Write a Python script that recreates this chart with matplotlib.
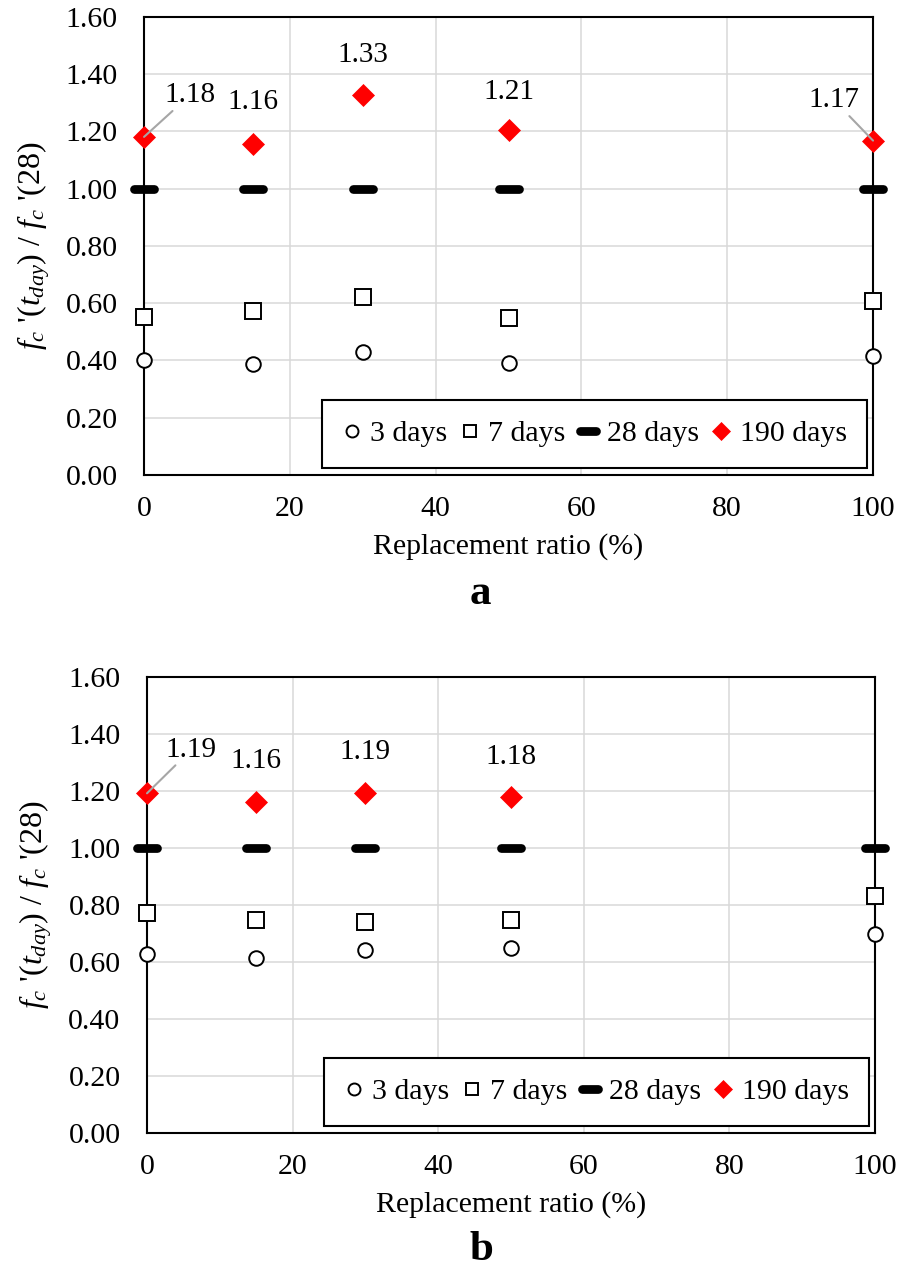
import matplotlib
matplotlib.use('Agg')
import matplotlib.pyplot as plt
from matplotlib.markers import MarkerStyle

plt.rcParams['font.family'] = ['Liberation Serif', 'DejaVu Serif']
plt.rcParams['mathtext.fontset'] = 'custom'
plt.rcParams['mathtext.rm'] = 'Liberation Serif'
plt.rcParams['mathtext.it'] = 'Liberation Serif:italic'

# ---------------- data ----------------
ratio = [0, 15, 30, 50, 100]
a_3d = [0.400, 0.388, 0.430, 0.390, 0.416]
a_7d = [0.553, 0.573, 0.622, 0.547, 0.608]
a_28d = [1.00, 1.00, 1.00, 1.00, 1.00]
a_190d = [1.181, 1.157, 1.327, 1.205, 1.168]

b_3d = [0.628, 0.614, 0.643, 0.649, 0.698]
b_7d = [0.772, 0.747, 0.741, 0.747, 0.830]
b_28d = [1.00, 1.00, 1.00, 1.00, 1.00]
ratio_b190 = [0, 15, 30, 50]
b_190d = [1.192, 1.163, 1.194, 1.178]

series_names = ['3 days', '7 days', '28 days', '190 days']
x_ticks = [0, 20, 40, 60, 80, 100]
y_ticks = [0.0, 0.2, 0.4, 0.6, 0.8, 1.0, 1.2, 1.4, 1.6]

# label offsets (points) for 190-day values
a_offsets = [(33, 30), (0, 30), (0, 28.5), (0, 27.5), (-28, 29)]
a_leader = [True, False, False, False, True]
b_offsets = [(32, 31.5), (0, 29), (0, 29), (0, 29)]
b_leader = [True, False, False, False]

bar_marker = MarkerStyle('_', capstyle='round')


def panel(ax, x, d3, d7, d28, x190, d190, offsets, leaders):
    ax.set_xlim(0, 100)
    ax.set_ylim(0, 1.6)
    ax.set_xticks(x_ticks)
    ax.set_yticks(y_ticks)
    ax.set_yticklabels([f"{v:.2f}" for v in y_ticks])
    ax.grid(True, color='#d9d9d9', linewidth=1.1)
    ax.set_axisbelow(True)
    for s in ax.spines.values():
        s.set_linewidth(1.5)
        s.set_color('black')
    ax.tick_params(axis='both', length=0, labelsize=21.5)
    ax.tick_params(axis='y', pad=19)
    ax.tick_params(axis='x', pad=15)

    kw = dict(linestyle='none', clip_on=False, zorder=5)
    ax.plot(x, d3, marker='o', ms=10.5, mew=1.4, mfc='white', mec='black',
            label=series_names[0], **kw)
    ax.plot(x, d7, marker='s', ms=11, mew=1.4, mfc='white', mec='black',
            label=series_names[1], **kw)
    ax.plot(x, d28, marker=bar_marker, ms=14.5, mew=6.3, color='black',
            label=series_names[2], **kw)
    ax.plot(x190, d190, marker='D', ms=11.5, mew=0.5, mfc='#ff0000', mec='#ff0000',
            label=series_names[3], **kw)

    for xi, v, off, ld in zip(x190, d190, offsets, leaders):
        arrow = dict(arrowstyle='-', color='#a6a6a6', lw=1.5,
                     shrinkA=0, shrinkB=0) if ld else None
        ax.annotate(f"{v:.2f}", xy=(xi, v), xytext=off, textcoords='offset points',
                    ha='center', va='center', fontsize=21, arrowprops=arrow,
                    annotation_clip=False, zorder=6)

    leg = ax.legend(loc='lower right', bbox_to_anchor=(0.992, 0.016), ncol=4,
                    fontsize=21.5, markerscale=0.82, handlelength=0.65,
                    handletextpad=0.3, columnspacing=0.42, borderpad=0.68,
                    frameon=True, fancybox=False, framealpha=1,
                    borderaxespad=0)
    leg.get_frame().set_edgecolor('black')
    leg.get_frame().set_linewidth(1.5)
    leg.set_zorder(7)

    ax.set_xlabel('Replacement ratio (%)', fontsize=21.5, labelpad=8)
    ax.set_ylabel(r"$f_c$ '$(t_{day})$ / $f_c$ '(28)", fontsize=23, labelpad=10)


fig = plt.figure(figsize=(8.98, 12.82), dpi=100)
axa = fig.add_axes([0.1604, 0.6295, 0.8118, 0.3573])
axb = fig.add_axes([0.1637, 0.1162, 0.8107, 0.3557])

panel(axa, ratio, a_3d, a_7d, a_28d, ratio, a_190d, a_offsets, a_leader)
panel(axb, ratio, b_3d, b_7d, b_28d, ratio_b190, b_190d, b_offsets, b_leader)

fig.text(480.5 / 898, 1 - 594 / 1282, 'a', fontsize=31, fontweight='bold',
         ha='center', va='center')
fig.text(481 / 898, 1 - 1250 / 1282, 'b', fontsize=31, fontweight='bold',
         ha='center', va='center')

fig.savefig('out.png', dpi=100)
